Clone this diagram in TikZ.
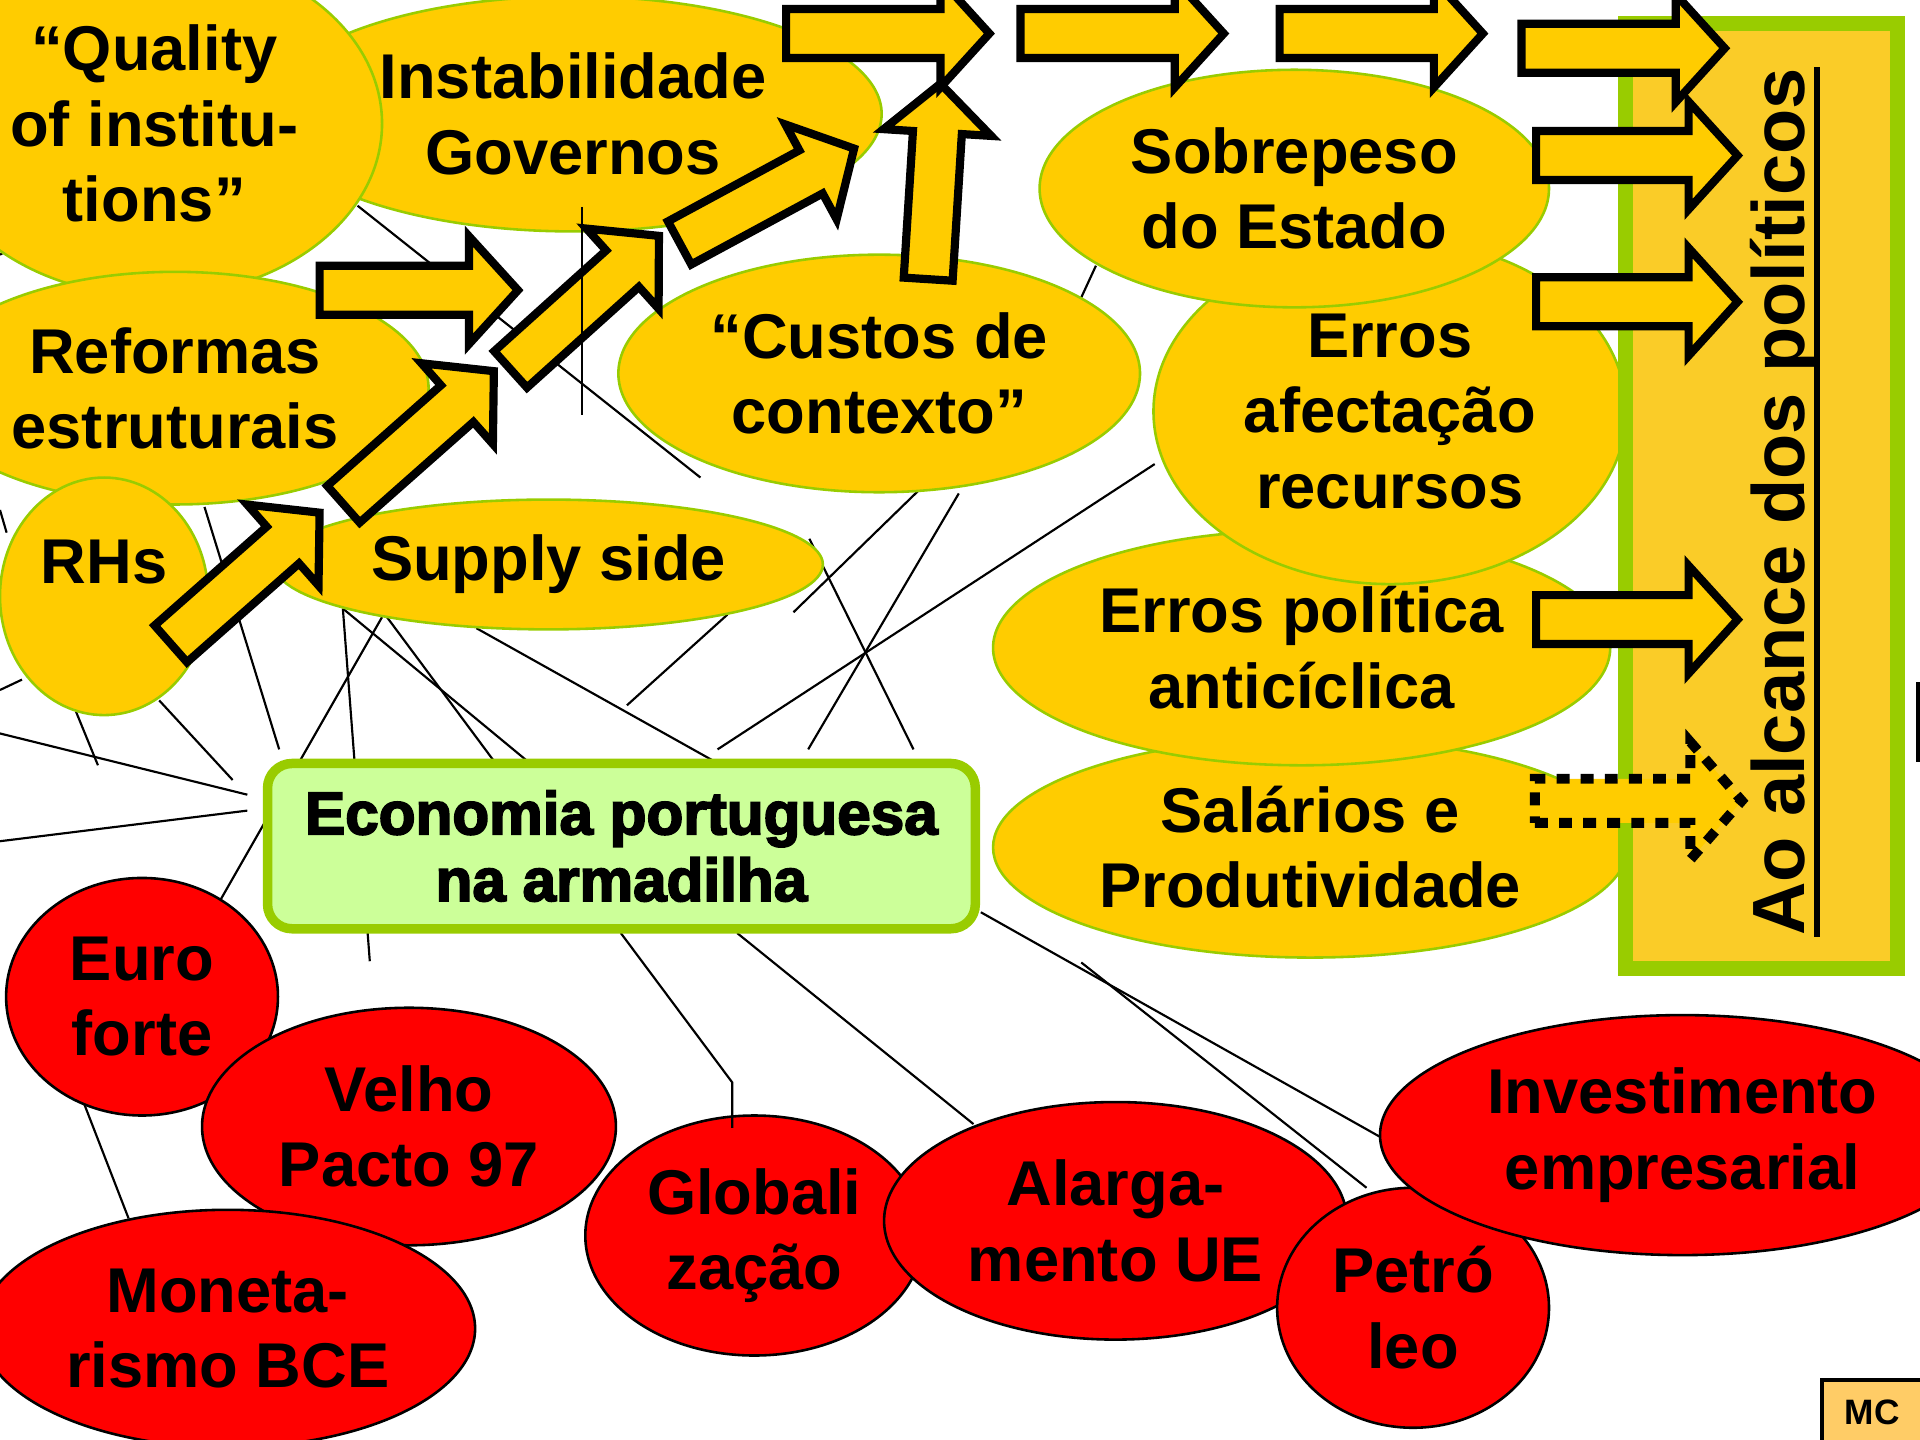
\documentclass[tikz,border=0pt]{standalone}
\usepackage{fontspec}
\setmainfont{Liberation Sans}
\newfontfamily\heavyfont{Liberation Sans Bold}[FakeBold=3]
\usetikzlibrary{shapes.geometric}

\definecolor{gold}{HTML}{FFCC00}
\definecolor{leaf}{HTML}{99CC00}
\definecolor{mint}{HTML}{CCFF99}
\definecolor{panelfill}{HTML}{FACC28}
\definecolor{tag}{HTML}{FFCC66}

\newcommand{\shaftw}{0.2}
\newcommand{\headw}{0.44}
\newcommand{\headl}{0.4}
% block arrow: [style] {tail} {angle} {length}
\newcommand{\blockarrow}[4][]{%
  \begin{scope}[shift={#2},rotate=#3]
    \draw[bigarrow,#1] (0,-\shaftw) -- ({#4-\headl},-\shaftw) -- ({#4-\headl},-\headw) -- (#4,0)
      -- ({#4-\headl},\headw) -- ({#4-\headl},\shaftw) -- (0,\shaftw) -- cycle;
  \end{scope}}

\begin{document}
\begin{tikzpicture}[
    cause/.style = {ellipse, draw=leaf, line width=0.6pt, fill=gold, inner sep=0pt, align=center, font=\bfseries\fontsize{14.7}{17.5}\selectfont},
    shock/.style = {ellipse, draw=black, line width=0.6pt, fill=red, inner sep=0pt, align=center, font=\bfseries\fontsize{14.7}{17.5}\selectfont},
    dims/.style 2 args = {minimum width=#1cm, minimum height=#2cm},
    wire/.style = {line width=0.5pt},
    bigarrow/.style = {draw=black, fill=gold, line width=1.9pt},
    dotarrow/.style = {line width=2.3pt, dash pattern=on 3pt off 2.6pt}]
    \useasboundingbox (0,0) rectangle (15.68,-11.76);
    \clip (0,0) rectangle (15.68,-11.76);

    % loose connectors
    \coordinate (a1) at (2.92,-1.68);   \coordinate (b1) at (5.72,-3.90);
    \coordinate (a2) at (4.75,-1.69);   \coordinate (b2) at (4.75,-3.39);
    \coordinate (a3) at (8.83,-2.43);   \coordinate (b3) at (8.95,-2.17);
    \coordinate (a4) at (9.43,-3.79);   \coordinate (b4) at (5.86,-6.12);
    \coordinate (a5) at (7.59,-3.92);   \coordinate (b5) at (6.48,-5.00);
    \coordinate (a6) at (7.83,-4.03);   \coordinate (b6) at (6.60,-6.12);
    \coordinate (a7) at (6.61,-4.40);   \coordinate (b7) at (7.46,-6.12);
    \coordinate (a8) at (5.94,-5.02);   \coordinate (b8) at (5.12,-5.76);
    \coordinate (a9) at (3.89,-5.13);   \coordinate (b9) at (5.82,-6.21);
    \coordinate (a10) at (2.80,-4.97);  \coordinate (b10) at (4.30,-6.21);
    \coordinate (a11) at (3.16,-5.04);  \coordinate (b11) at (4.03,-6.21);
    \coordinate (a12) at (3.12,-5.04);  \coordinate (b12) at (1.80,-7.35);
    \coordinate (b13) at (3.02,-7.85);
    \coordinate (a14) at (1.67,-4.14);  \coordinate (b14) at (2.28,-6.12);
    \coordinate (a15) at (0,-5.99);     \coordinate (b15) at (2.02,-6.49);
    \coordinate (a16) at (0,-6.87);     \coordinate (b16) at (2.02,-6.62);
    \coordinate (a17) at (1.30,-5.72);  \coordinate (b17) at (1.90,-6.37);
    \coordinate (a18) at (0.62,-5.81);  \coordinate (b18) at (0.80,-6.25);
    \coordinate (a19) at (0,-5.635);    \coordinate (b19) at (0.18,-5.55);
    \coordinate (a20) at (0,-2.08);     \coordinate (b20) at (0.095,-2.025);
    \coordinate (a21) at (0,-4.165);    \coordinate (b21) at (0.054,-4.35);
    \coordinate (a22) at (0.67,-8.97);  \coordinate (b22) at (1.05,-9.95);
    \coordinate (a23) at (5.07,-7.62);  \coordinate (k23) at (5.98,-8.84);  \coordinate (b23) at (5.98,-9.21);
    \coordinate (a24) at (6.02,-7.62);  \coordinate (b24) at (7.95,-9.18);
    \coordinate (a25) at (8.01,-7.45);  \coordinate (b25) at (11.28,-9.29);
    \coordinate (a26) at (8.83,-7.86);  \coordinate (b26) at (11.16,-9.70);
    \coordinate (a27) at (15.665,-5.57); \coordinate (b27) at (15.665,-6.22);

    \draw[wire] (a1) -- (b1);
    \draw[wire] (a3) -- (b3);
    \draw[wire] (a4) -- (b4);
    \draw[wire] (a5) -- (b5);
    \draw[wire] (a6) -- (b6);
    \draw[wire] (a7) -- (b7);
    \draw[wire] (a8) -- (b8);
    \draw[wire] (a9) -- (b9);
    \draw[wire] (a10) -- (b10);
    \draw[wire] (a11) -- (b11);
    \draw[wire] (a12) -- (b12);
    \draw[wire] (a10) -- (b13);
    \draw[wire] (a14) -- (b14);
    \draw[wire] (a15) -- (b15);
    \draw[wire] (a16) -- (b16);
    \draw[wire] (a17) -- (b17);
    \draw[wire] (a18) -- (b18);
    \draw[wire] (a19) -- (b19);
    \draw[wire] (a20) -- (b20);
    \draw[wire] (a21) -- (b21);
    \draw[wire] (a22) -- (b22);
    \draw[wire] (a24) -- (b24);
    \draw[wire] (a25) -- (b25);
    \draw[wire] (a26) -- (b26);
    \draw[line width=0.8pt] (a27) -- (b27);

    % causes within reach
    \node[cause, dims={5.04}{1.92}] (instab) at (4.68,-0.93) {Instabilidade\\Governos};
    \node[cause, dims={3.72}{2.82}] (quality) at (1.26,-1.01) {“Quality\\of institu-\\tions”};
    \node[cause, dims={4.14}{1.90}] (reformas) at (1.43,-3.17) {Reformas\\estruturais};
    \node[cause, dims={1.70}{1.94}] (rhs) at (0.85,-4.87) {};
    \node[font=\bfseries\fontsize{14.7}{17.5}\selectfont] (rhstext) at (0.85,-4.59) {RHs};
    \node[cause, dims={4.48}{1.06}] (supply) at (4.48,-4.61) {Supply side};
    \node[cause, dims={4.26}{1.94}] (custos) at (7.18,-3.05) {“Custos de\\contexto”};
    \node[cause, dims={5.18}{1.80}] (salarios) at (10.70,-6.92) {Salários e\\Produtividade};
    \node[cause, dims={5.04}{1.92}] (ciclo) at (10.63,-5.29) {Erros política\\anticíclica};
    \node[cause, dims={3.86}{2.82}] (afectacao) at (11.35,-3.36) {Erros\\afectação\\recursos};
    \node[cause, dims={4.16}{1.94}] (sobrepeso) at (10.57,-1.54) {Sobrepeso\\do Estado};

    % outside shocks
    \node[shock, dims={2.22}{1.94}] (euro) at (1.16,-8.14) {Euro\\forte};
    \node[shock, dims={3.38}{1.94}] (velho) at (3.34,-9.20) {Velho\\Pacto 97};
    \node[shock, dims={4.04}{1.94}] (moneta) at (1.86,-10.85) {Moneta-\\rismo BCE};
    \node[shock, dims={2.76}{1.96}] (globali) at (6.16,-10.09) {Globali\\zação};
    \node[shock, dims={3.78}{1.94}] (alarga) at (9.11,-9.97) {Alarga-\\mento UE};
    \node[shock, dims={2.22}{1.96}] (petro) at (11.54,-10.68) {Petró\\leo};
    \node[shock, dims={4.94}{1.96}] (invest) at (13.74,-9.27) {Investimento\\empresarial};

    \draw[wire] (a23) -- (k23) -- (b23);

    \node[draw=leaf, fill=mint, line width=2.2pt, rounded corners=0.2cm, minimum width=5.78cm, minimum height=1.35cm, align=center, font=\heavyfont\fontsize{14}{15.5}\selectfont] (trap) at (5.075,-6.91) {Economia portuguesa\\na armadilha};

    \node[draw=leaf, fill=panelfill, line width=3.55pt, minimum width=2.22cm, minimum height=7.72cm, inner sep=0pt] (reach) at (14.387,-4.05) {};
    \node[rotate=90, anchor=base, inner sep=0pt, font=\bfseries\fontsize{17.2}{20}\selectfont] (reachtext) at (14.74,-4.10) {Ao alcance dos políticos};
    \draw[line width=1.2pt] ([xshift=2.8pt]reachtext.base west) -- ([xshift=2.8pt]reachtext.base east);

    % arrows
    \blockarrow{(1.395,-5.258)}{41.4}{1.62}
    \blockarrow{(2.805,-4.118)}{41.5}{1.64}
    \blockarrow{(4.17,-3.017)}{42.0}{1.63}
    \blockarrow{(5.55,-1.984)}{28.4}{1.62}
    \blockarrow{(2.61,-2.37)}{0}{1.62}
    \blockarrow{(7.58,-2.28)}{86.4}{1.60}
    \blockarrow{(6.42,-0.274)}{0}{1.66}
    \blockarrow{(8.334,-0.274)}{0}{1.66}
    \blockarrow{(10.45,-0.274)}{0}{1.66}
    \blockarrow{(12.425,-0.394)}{0}{1.66}
    \blockarrow{(12.545,-1.27)}{0}{1.645}
    \blockarrow{(12.545,-2.465)}{0}{1.645}
    \blockarrow{(12.545,-5.06)}{0}{1.645}
    {\renewcommand{\shaftw}{0.18}\renewcommand{\headw}{0.48}\renewcommand{\headl}{0.42}%
     \blockarrow[dotarrow]{(12.535,-6.54)}{0}{1.69}}

    \draw[wire] (a2) -- (b2);

    \node[draw, fill=tag, line width=0.8pt, minimum width=0.82cm, minimum height=0.53cm, font=\bfseries\fontsize{8.2}{10}\selectfont] (mc) at (15.29,-11.535) {MC};
\end{tikzpicture}
\end{document}
